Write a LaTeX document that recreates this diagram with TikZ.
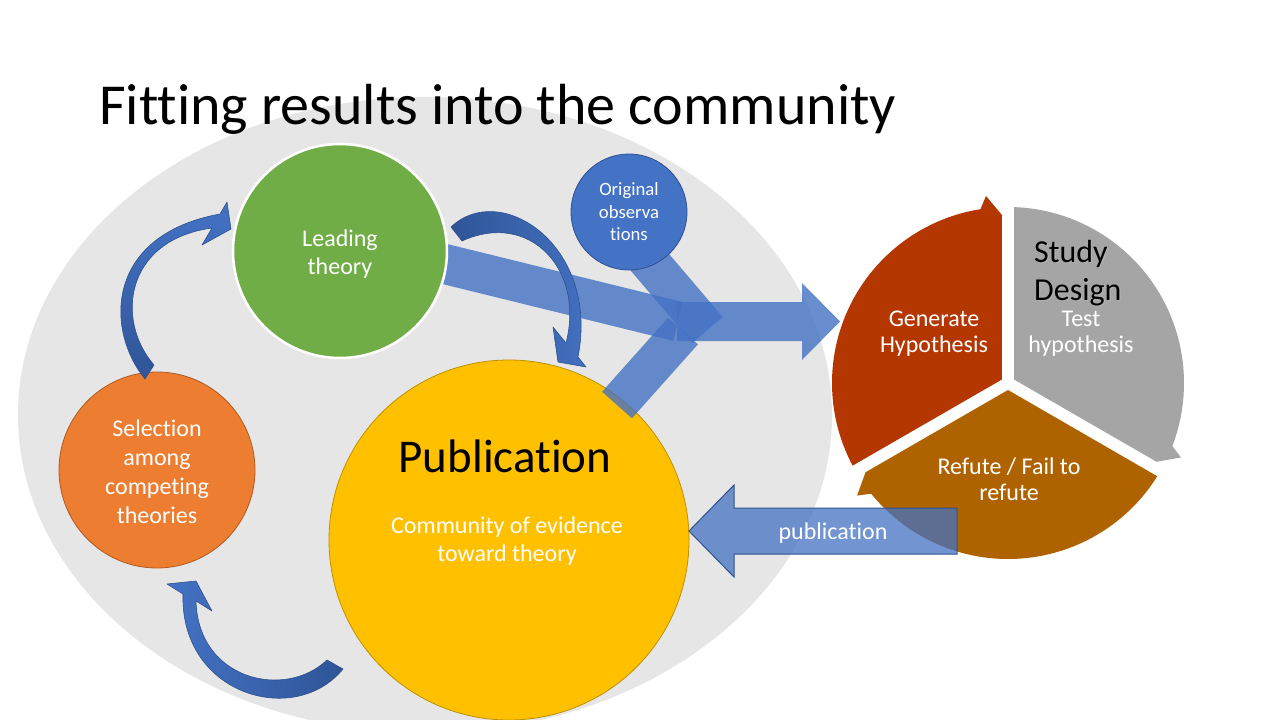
\documentclass[tikz,border=0pt]{standalone}
\usepackage{fontspec}
\setmainfont{Carlito}[Ligatures=NoCommon]
\usetikzlibrary{calc}

\definecolor{ellgray}{HTML}{E6E6E6}
\definecolor{accblue}{HTML}{4472C4}
\definecolor{darkblue}{HTML}{2F5597}
\definecolor{edgeblue}{HTML}{2F528F}
\definecolor{leafgreen}{HTML}{70AD47}
\definecolor{accorange}{HTML}{ED7D31}
\definecolor{orangeedge}{HTML}{AE5A21}
\definecolor{gold}{HTML}{FFC000}
\definecolor{goldedge}{HTML}{BF9000}
\definecolor{rust}{HTML}{B43600}
\definecolor{stone}{HTML}{A5A5A5}
\definecolor{umber}{HTML}{AE6300}

\tikzset{
  txt/.style={font=\fontsize{24}{28.5}\selectfont, text=white, align=center, inner sep=0pt},
  cyctxt/.style={font=\fontsize{24}{26}\selectfont, text=white, align=center, inner sep=0pt},
  disc/.style={circle, inner sep=0pt},
  band/.style={draw=accblue, draw opacity=0.8, line width=40pt},
  blockarrow/.style={fill=accblue, fill opacity=0.8},
  bendarrow/.style={draw=edgeblue, line width=0.6pt, line join=round},
}

\begin{document}
\begin{tikzpicture}[x=1pt,y=-1pt]
\useasboundingbox (0,0) rectangle (1280,720);
\fill[white] (0,0) rectangle (1280,720);

% grey backdrop
\fill[ellgray] (425,415) ellipse [x radius=407pt, y radius=318pt];

% translucent bands feeding the study cycle
\coordinate (leadout) at (400,253);
\coordinate (leadend) at (678,321.4);
\coordinate (obsout) at (636,246);
\coordinate (obsend) at (707.5,330);
\coordinate (pubout) at (617,405);
\coordinate (pubend) at (683,331);
\draw[band] (leadout) -- (leadend);
\draw[band] (obsout) -- (obsend);
\fill[blockarrow] (677,302) -- (802,302) -- (802,283) -- (840,321.5) -- (802,360) -- (802,341) -- (677,341) -- cycle;

% circles
\node[disc, fill=leafgreen, draw=white, line width=2.5pt, minimum size=214pt, txt] (lead) at (340,251) {};
\node[txt] (leadtext) at (340,254) {Leading\\theory};
\node[disc, fill=accblue, draw=edgeblue, line width=0.8pt, minimum size=116pt, txt, font=\fontsize{18.7}{22.5}\selectfont] (obs) at (629,212) {Original\\observa\\tions};
\node[disc, fill=gold, draw=goldedge, line width=0.8pt, minimum size=360pt] (pub) at (509,540) {};
\node[disc, fill=accorange, draw=orangeedge, line width=0.8pt, minimum size=196pt] (sel) at (157,470) {};
\node[txt, font=\fontsize{24}{29}\selectfont] (seltext) at (157,472) {Selection\\among\\competing\\theories};

\draw[band] (pubout) -- (pubend);

\node[font=\fontsize{47}{56}\selectfont, inner sep=0pt] (pubtitle) at (505,456) {Publication};
\node[txt] (pubbody) at (507,541) {Community of evidence\\toward theory};

% study cycle: three wedges with arrow notches
\begin{scope}[shift={(1008pt,-383pt)}, y=1pt]
  \foreach \ang/\col in {0/rust, -120/stone, -240/umber}{
    \fill[\col, rotate=\ang] (150:7) -- (-6.06,168) -- (-22,187) -- (99:176)
      arc[start angle=99, end angle=208, radius=176] -- cycle;
  }
\end{scope}

\node[cyctxt] (gen) at (934,334) {Generate\\Hypothesis};
\node[cyctxt] (test) at (1081,334) {Test\\hypothesis};
\node[cyctxt] (refute) at (1009,479) {Refute / Fail to\\refute};
\node[font=\fontsize{32}{38}\selectfont, align=left, anchor=west, inner sep=0pt, text=black!30] (studyshadow) at (1035.2,274.2) {Study\\Design};
\node[font=\fontsize{32}{38}\selectfont, align=left, anchor=west, inner sep=0pt, text=black] (study) at (1034,273) {Study\\Design};

% publication feedback arrow
\path[fill=accblue, fill opacity=0.75, draw=edgeblue, line width=1pt]
  (957,508) -- (734,508) -- (734,485) -- (689,531) -- (734,577) -- (734,554) -- (957,554) -- cycle;
\node[txt] (publabel) at (833,533) {publication};

% curved arrows around the community loop
\shadedraw[bendarrow, top color=accblue, bottom color=darkblue]
  (145,379) .. controls (105,330) and (105,235) .. (220,214)
  -- (227,202) -- (231,229) -- (202,245) -- (212,228)
  .. controls (125,240) and (115,320) .. (154,365) -- cycle;

\shadedraw[bendarrow, left color=darkblue, right color=accblue]
  (451,227) .. controls (500,180) and (600,245) .. (578,357)
  -- (586,367) -- (558,362) -- (553,327) -- (566,343)
  .. controls (585,270) and (530,210) .. (462,241) -- cycle;

\shadedraw[bendarrow, left color=accblue, right color=darkblue]
  (343,669) .. controls (295,728) and (180,695) .. (183,594)
  -- (167,584) -- (196,581) -- (212,611) -- (196,601)
  .. controls (198,680) and (285,700) .. (327,660) -- cycle;

% title
\node[font=\fontsize{58}{70}\selectfont, anchor=base west, inner sep=0pt] (title) at (99,124) {Fitting results into the community};
\end{tikzpicture}
\end{document}
